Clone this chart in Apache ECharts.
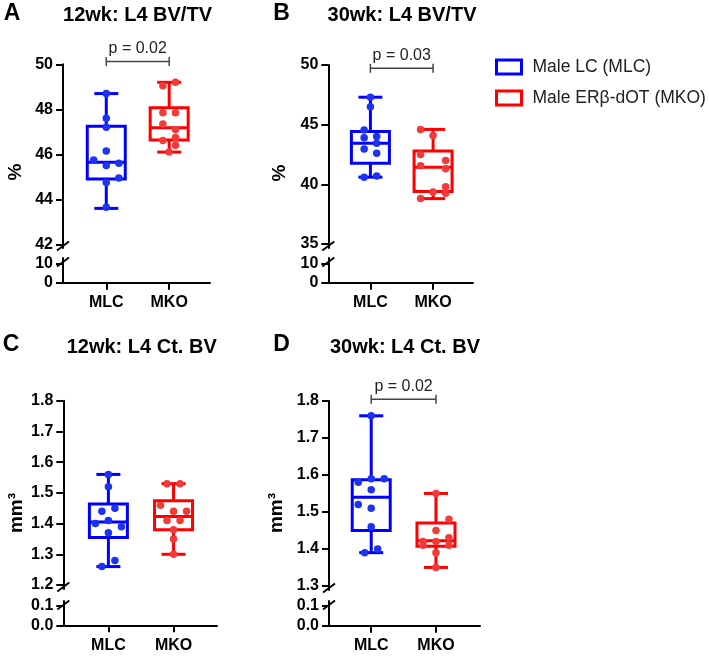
<!DOCTYPE html>
<html><head><meta charset="utf-8">
<script src="https://cdn.jsdelivr.net/npm/echarts@6/dist/echarts.min.js"></script>
<style>html,body{margin:0;padding:0;background:#fff}#c{width:709px;height:656px}</style>
</head><body><div id="c"></div>
<script>
// ---------------- data ----------------
const categories = ['MLC', 'MKO'];
const seriesNames = ['Male LC (MLC)', 'Male ERβ-dOT (MKO)'];
const panelLetters = ['A', 'B', 'C', 'D'];
const panelTitles = ['12wk: L4 BV/TV', '30wk: L4 BV/TV', '12wk: L4 Ct. BV', '30wk: L4 Ct. BV'];
const yNames = ['%', '%', 'mm³', 'mm³'];
const pTexts = ['p = 0.02', 'p = 0.03', null, 'p = 0.02'];
const pLevels = [50.12, 49.72, null, 1.805];

const upperTicksA = [42, 44, 46, 48, 50];
const upperTicksB = [35, 40, 45, 50];
const upperTicksC = [1.2, 1.3, 1.4, 1.5, 1.6, 1.7, 1.8];
const upperTicksD = [1.3, 1.4, 1.5, 1.6, 1.7, 1.8];
const lowerTicksAB = [0, 10];
const lowerTicksCD = [0, 0.1];

// individual points (values) and horizontal jitter (category units)
const aMLC = [48.7, 47.6, 47.2, 46.15, 45.75, 45.6, 45.5, 44.95, 44.75, 43.65];
const aMLCJitter = [0, 0, 0, 0, -0.2, 0.2, 0, 0.2, 0, 0];
const aMKO = [49.2, 49.05, 47.85, 47.85, 47.35, 47.1, 46.75, 46.62, 46.4, 46.1];
const aMKOJitter = [0.1, -0.1, -0.1, 0.1, -0.1, 0.1, 0.1, -0.1, 0.1, 0];

const bMLC = [47.3, 46.5, 44.55, 44.0, 43.9, 43.45, 42.95, 42.6, 40.7, 40.6];
const bMLCJitter = [0, 0, -0.1, 0.1, -0.1, 0.1, -0.1, 0.1, 0.1, -0.1];
const bMKO = [44.6, 44.1, 42.5, 42.0, 41.55, 41.3, 39.8, 39.35, 39.25, 38.8];
const bMKOJitter = [-0.2, 0, -0.2, 0.2, -0.2, 0.2, 0.2, 0, 0.2, -0.2];

const cMLC = [1.56, 1.52, 1.45, 1.44, 1.41, 1.40, 1.39, 1.37, 1.28, 1.26];
const cMLCJitter = [0, 0, 0.1, -0.1, 0, -0.2, 0.2, 0, 0.1, -0.1];
const cMKO = [1.53, 1.53, 1.46, 1.44, 1.44, 1.41, 1.41, 1.38, 1.35, 1.30];
const cMKOJitter = [-0.1, 0.1, -0.2, 0, 0.2, -0.1, 0.1, 0, 0, 0];

const dMLC = [1.76, 1.59, 1.59, 1.58, 1.56, 1.52, 1.51, 1.46, 1.40, 1.39];
const dMLCJitter = [0, 0, 0.2, -0.2, 0, -0.2, 0, 0, 0.1, -0.1];
const dMKO = [1.55, 1.48, 1.45, 1.43, 1.42, 1.42, 1.41, 1.41, 1.39, 1.35];
const dMKOJitter = [0, 0.2, 0, 0.2, -0.2, 0, 0.2, -0.2, 0, 0];

// box statistics [min, Q1, median, Q3, max]
const aMLCBox = [43.6, 44.9, 45.65, 47.25, 48.7];
const aMKOBox = [46.1, 46.64, 47.18, 48.07, 49.2];
const bMLCBox = [40.6, 41.77, 43.44, 44.42, 47.3];
const bMKOBox = [38.8, 39.39, 41.42, 42.8, 44.6];
const cMLCBox = [1.26, 1.355, 1.405, 1.464, 1.56];
const cMKOBox = [1.30, 1.38, 1.423, 1.474, 1.53];
const dMLCBox = [1.39, 1.45, 1.54, 1.587, 1.76];
const dMKOBox = [1.35, 1.407, 1.422, 1.47, 1.55];

// ---------------- layout / style ----------------
const FONT = 'Liberation Sans, Arial, Helvetica, sans-serif';
const boxColors = ['#0000ff', '#ff0000'];
const pointColors = ['#1d33f2', '#f23a3a'];

const panels = [
  { upper: upperTicksA, lower: lowerTicksAB, pts: [[aMLC, aMLCJitter], [aMKO, aMKOJitter]], boxes: [aMLCBox, aMKOBox], dec: 0 },
  { upper: upperTicksB, lower: lowerTicksAB, pts: [[bMLC, bMLCJitter], [bMKO, bMKOJitter]], boxes: [bMLCBox, bMKOBox], dec: 0 },
  { upper: upperTicksC, lower: lowerTicksCD, pts: [[cMLC, cMLCJitter], [cMKO, cMKOJitter]], boxes: [cMLCBox, cMKOBox], dec: 1 },
  { upper: upperTicksD, lower: lowerTicksCD, pts: [[dMLC, dMLCJitter], [dMKO, dMKOJitter]], boxes: [dMLCBox, dMKOBox], dec: 1 }
];
const frames = [
  { left: 63, right: 210, uTop: 64.3, uBot: 248, lTop: 258, lBot: 282.7, xMin: 0.312, xMax: 2.649, uMin: 41.84, uMax: 50, lMax: 12.73, letterAt: [12, 14], titleAt: [137.5, 15], yNameAt: [16, 172] },
  { left: 328.3, right: 473, uTop: 65, uBot: 248, lTop: 258, lBot: 282.7, xMin: 0.328, xMax: 2.637, uMin: 34.66, uMax: 50, lMax: 12.73, letterAt: [281.5, 14], titleAt: [402, 15], yNameAt: [280, 173] },
  { left: 63.3, right: 217, uTop: 400.7, uBot: 589, lTop: 601, lBot: 625.3, xMin: 0.308, xMax: 2.667, uMin: 1.187, uMax: 1.8, lMax: 0.126, letterAt: [11, 344.5], titleAt: [141.7, 347], yNameAt: [17, 513] },
  { left: 329, right: 480, uTop: 401, uBot: 590, lTop: 601, lBot: 625.7, xMin: 0.348, xMax: 2.68, uMin: 1.289, uMax: 1.8, lMax: 0.121, letterAt: [281.5, 344.5], titleAt: [405, 347], yNameAt: [277, 513] }
];

function renderBox(params, api) {
  const x = api.value(0);
  const p = [1, 2, 3, 4, 5].map(i => api.coord([x, api.value(i)]));
  const cx = p[0][0];
  const color = api.visual('color');
  const hw = 19, cw = 12;
  const st = { stroke: color, lineWidth: 3, fill: null };
  return {
    type: 'group', children: [
      { type: 'line', shape: { x1: cx, y1: p[0][1], x2: cx, y2: p[1][1] }, style: st },
      { type: 'line', shape: { x1: cx, y1: p[3][1], x2: cx, y2: p[4][1] }, style: st },
      { type: 'line', shape: { x1: cx - cw, y1: p[0][1], x2: cx + cw, y2: p[0][1] }, style: st },
      { type: 'line', shape: { x1: cx - cw, y1: p[4][1], x2: cx + cw, y2: p[4][1] }, style: st },
      { type: 'rect', shape: { x: cx - hw, y: p[3][1], width: 2 * hw, height: p[1][1] - p[3][1] }, style: st },
      { type: 'line', shape: { x1: cx - hw, y1: p[2][1], x2: cx + hw, y2: p[2][1] }, style: st }
    ]
  };
}

const bracketLabel = {};
function renderBracket(params, api) {
  const a = api.coord([api.value(0), api.value(2)]);
  const b = api.coord([api.value(1), api.value(2)]);
  const st = { stroke: '#444', lineWidth: 1.5 };
  return {
    type: 'group', children: [
      { type: 'line', shape: { x1: a[0], y1: a[1], x2: b[0], y2: b[1] }, style: st },
      { type: 'line', shape: { x1: a[0], y1: a[1] - 4.5, x2: a[0], y2: a[1] + 4.5 }, style: st },
      { type: 'line', shape: { x1: b[0], y1: b[1] - 4.5, x2: b[0], y2: b[1] + 4.5 }, style: st },
      { type: 'text', x: (a[0] + b[0]) / 2, y: a[1] - 5, style: { text: bracketLabel[params.seriesIndex] || '', fontSize: 16, fontFamily: FONT, fill: '#222', align: 'center', verticalAlign: 'bottom' } }
    ]
  };
}

function renderBreak(which) {
  return function (params) {
    const cs = params.coordSys;
    const cx = cs.x;
    const cy = which === 'upper' ? cs.y + cs.height - 2 : cs.y + 4;
    return { type: 'line', shape: { x1: cx - 6, y1: cy + 4.5, x2: cx + 6, y2: cy - 4.5 }, style: { stroke: '#000', lineWidth: 2 } };
  };
}

const grid = [], xAxis = [], yAxis = [], series = [], graphic = [];
const axisLineStyle = { color: '#000', width: 2 };
panels.forEach((pn, i) => {
  const f = frames[i];
  const gu = 2 * i, gl = 2 * i + 1;
  grid.push({ left: f.left, top: f.uTop, width: f.right - f.left, height: f.uBot - f.uTop, outerBoundsMode: 'none' });
  grid.push({ left: f.left, top: f.lTop, width: f.right - f.left, height: f.lBot - f.lTop, outerBoundsMode: 'none' });
  xAxis.push({ type: 'value', gridIndex: gu, min: f.xMin, max: f.xMax, show: false });
  xAxis.push({
    type: 'value', gridIndex: gl, min: f.xMin, max: f.xMax,
    axisLine: { onZero: false, lineStyle: axisLineStyle },
    axisTick: { customValues: [1, 2], length: 7, lineStyle: { color: '#000', width: 2 } },
    axisLabel: { customValues: [1, 2], formatter: v => categories[Math.round(v) - 1], fontSize: 16, fontWeight: 'bold', color: '#000', fontFamily: FONT, margin: 12 },
    splitLine: { show: false }
  });
  const fmt = v => pn.dec ? Number(v).toFixed(pn.dec) : String(v);
  yAxis.push({
    type: 'value', gridIndex: gu, min: f.uMin, max: f.uMax,
    axisLine: { show: true, onZero: false, lineStyle: axisLineStyle },
    axisTick: { show: true, customValues: pn.upper, length: 7, lineStyle: { color: '#000', width: 2 } },
    axisLabel: { customValues: pn.upper, formatter: fmt, fontSize: 16, fontWeight: 'bold', color: '#000', fontFamily: FONT, margin: 10 },
    splitLine: { show: false }
  });
  yAxis.push({
    type: 'value', gridIndex: gl, min: 0, max: f.lMax,
    axisLine: { show: true, onZero: false, lineStyle: axisLineStyle },
    axisTick: { show: true, customValues: pn.lower, length: 7, lineStyle: { color: '#000', width: 2 } },
    axisLabel: { customValues: pn.lower, formatter: fmt, fontSize: 16, fontWeight: 'bold', color: '#000', fontFamily: FONT, margin: 10 },
    splitLine: { show: false }
  });
  pn.boxes.forEach((bx, g) => {
    series.push({
      type: 'custom', name: seriesNames[g], xAxisIndex: gu, yAxisIndex: gu, z: 2,
      itemStyle: { color: boxColors[g] }, renderItem: renderBox,
      data: [[g + 1].concat(bx)], silent: true
    });
  });
  pn.pts.forEach(([vals, jit], g) => {
    series.push({
      type: 'scatter', name: seriesNames[g], xAxisIndex: gu, yAxisIndex: gu, z: 3,
      symbolSize: 7.5, itemStyle: { color: pointColors[g], opacity: 1 },
      data: vals.map((v, k) => [g + 1 + jit[k], v]), silent: true
    });
  });
  if (pTexts[i]) {
    bracketLabel[series.length] = pTexts[i];
    series.push({
      type: 'custom', xAxisIndex: gu, yAxisIndex: gu, z: 4, clip: false,
      renderItem: renderBracket, data: [[1, 2, pLevels[i]]], silent: true
    });
  }
  series.push({ type: 'custom', xAxisIndex: gu, yAxisIndex: gu, z: 5, clip: false, renderItem: renderBreak('upper'), data: [[1, f.uMin]], silent: true });
  series.push({ type: 'custom', xAxisIndex: gl, yAxisIndex: gl, z: 5, clip: false, renderItem: renderBreak('lower'), data: [[1, 0]], silent: true });

  graphic.push({ type: 'text', x: f.letterAt[0], y: f.letterAt[1], style: { text: panelLetters[i], fontSize: 23, fontWeight: 'bold', fontFamily: FONT, fill: '#000', align: 'center', verticalAlign: 'middle' } });
  graphic.push({ type: 'text', x: f.titleAt[0], y: f.titleAt[1], style: { text: panelTitles[i], fontSize: 20, fontWeight: 'bold', fontFamily: FONT, fill: '#000', align: 'center', verticalAlign: 'middle' } });
  graphic.push({ type: 'text', x: f.yNameAt[0], y: f.yNameAt[1], rotation: Math.PI / 2, style: { text: yNames[i], fontSize: 19, fontWeight: 'bold', fontFamily: FONT, fill: '#000', align: 'center', verticalAlign: 'middle' } });
});

const chart = echarts.init(document.getElementById('c'), null, { renderer: 'canvas' });
chart.setOption({
  backgroundColor: '#fff',
  animation: false,
  textStyle: { fontFamily: FONT },
  grid, xAxis, yAxis, series, graphic,
  legend: {
    orient: 'vertical', left: 490, top: 53, padding: 5, itemWidth: 25, itemHeight: 14, itemGap: 13,
    selectedMode: false,
    textStyle: { fontSize: 17.5, color: '#222', fontFamily: FONT, lineHeight: 18, padding: [0, 0, 0, 6] },
    data: [
      { name: seriesNames[0], icon: 'rect', itemStyle: { color: 'rgba(255,255,255,0)', borderColor: boxColors[0], borderWidth: 3 } },
      { name: seriesNames[1], icon: 'rect', itemStyle: { color: 'rgba(255,255,255,0)', borderColor: boxColors[1], borderWidth: 3 } }
    ]
  }
});
</script>
</body></html>
